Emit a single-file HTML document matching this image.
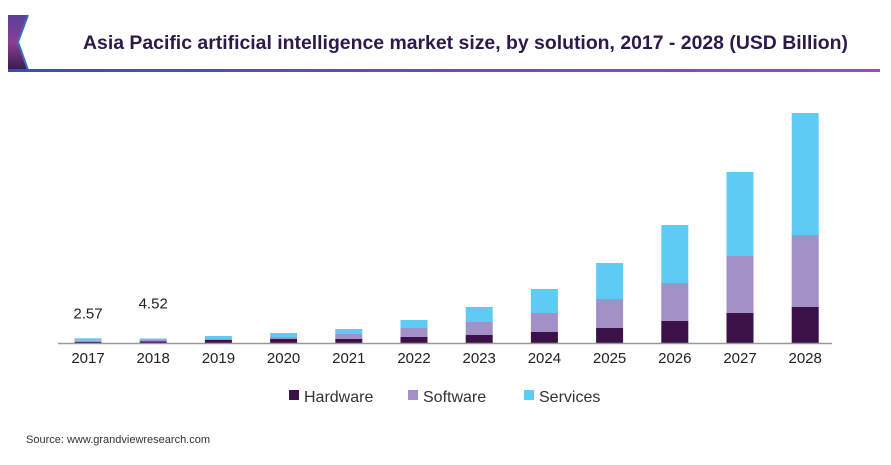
<!DOCTYPE html>
<html><head><meta charset="utf-8"><style>
body{margin:0;background:#fff;width:891px;height:460px;overflow:hidden;font-family:"Liberation Sans",sans-serif}
</style></head><body>
<svg width="891" height="460" xmlns="http://www.w3.org/2000/svg">
<defs>
<linearGradient id="lg" x1="0" x2="1"><stop offset="0" stop-color="#3b4fa8"/><stop offset="1" stop-color="#9b4fb0"/></linearGradient>
<linearGradient id="dg" x1="0" y1="0" x2="0" y2="1"><stop offset="0" stop-color="#5b3f9a"/><stop offset="0.5" stop-color="#8a3f94"/><stop offset="1" stop-color="#3a1a4a"/></linearGradient>
</defs>
<polygon points="8,15 28,15 18,42 28,70 8,70" fill="url(#dg)"/>
<polyline points="28,15 18,42 28,70" fill="none" stroke="#3b6fc8" stroke-width="2"/>
<rect x="8" y="69" width="872" height="3" fill="url(#lg)"/>
<text x="83" y="49" font-size="19" font-weight="bold" fill="#2d1a4a" textLength="765" lengthAdjust="spacingAndGlyphs">Asia Pacific artificial intelligence market size, by solution, 2017 - 2028 (USD Billion)</text>
<g id="bars"></g>
<line x1="58" y1="343.5" x2="832" y2="343.5" stroke="#999" stroke-width="1.5"/>
<g id="labels"></g>
<g>
<rect x="289" y="390" width="10" height="10" fill="#3a1248"/>
<text x="304" y="402" font-size="16" fill="#333">Hardware</text>
<rect x="408" y="390" width="10" height="10" fill="#a390c6"/>
<text x="423" y="402" font-size="16" fill="#333">Software</text>
<rect x="524" y="390" width="10" height="10" fill="#5ecbf5"/>
<text x="539" y="402" font-size="16" fill="#333">Services</text>
</g>
<text x="26" y="443" font-size="11" fill="#333">Source: www.grandviewresearch.com</text>
</svg>
<script>
const years=["2017","2018","2019","2020","2021","2022","2023","2024","2025","2026","2027","2028"];
const hardware=[1.2,1.5,3,4,4,6,8,11,15,22,30,36];
const software=[1.5,1.5,1,2,5,9,13,19,29,38,57,72];
const services=[2,1.5,3,4,5,8,15,24,36,58,84,122];
const valueLabels=["2.57","4.52","","","","","","","","","",""];
const ns="http://www.w3.org/2000/svg";
const base=343, scale=1, x0=88, step=65.2, bw=27;
const xs=i=>x0+i*step, ys=v=>v*scale;
const bars=document.getElementById('bars'), labels=document.getElementById('labels');
const series=[["hardware",hardware,"#3a1248"],["software",software,"#a390c6"],["services",services,"#5ecbf5"]];
years.forEach((y,i)=>{
  let acc=0;
  series.forEach(([n,arr,c])=>{
    const h=ys(arr[i]);
    const r=document.createElementNS(ns,'rect');
    r.setAttribute('x',xs(i)-bw/2);r.setAttribute('y',base-acc-h);
    r.setAttribute('width',bw);r.setAttribute('height',h);r.setAttribute('fill',c);
    
    
    bars.appendChild(r);acc+=h;
  });
  const t=document.createElementNS(ns,'text');
  t.setAttribute('x',xs(i));t.setAttribute('y',363);t.setAttribute('text-anchor','middle');
  t.setAttribute('font-size','15');t.setAttribute('fill','#222');t.textContent=y;
  
  
  labels.appendChild(t);
  if(valueLabels[i]){
    const v=document.createElementNS(ns,'text');
    v.setAttribute('x',xs(i));v.setAttribute('y',base-acc-(i==0?20:30));v.setAttribute('text-anchor','middle');
    v.setAttribute('font-size','15');v.setAttribute('fill','#222');v.textContent=valueLabels[i];
    
    
    labels.appendChild(v);
  }
});
</script>
</body></html>
